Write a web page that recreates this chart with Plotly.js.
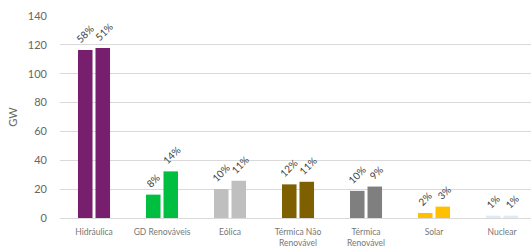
<!DOCTYPE html>
<html><head><meta charset="utf-8">
<script src="https://cdn.plot.ly/plotly-3.0.1.min.js"></script>
<style>html,body{margin:0;padding:0;background:#fff;}#chart{width:531px;height:248px;}</style>
</head><body><div id="chart"></div>
<script>
const categories = ["Hidráulica", "GD Renováveis", "Eólica", "Térmica Não<br>Renovável", "Térmica<br>Renovável", "Solar", "Nuclear"];
const series1 = [116.4, 16.2, 20.1, 23.3, 18.8, 3.5, 1.6];
const series2 = [117.9, 32.3, 25.8, 25.1, 21.8, 7.9, 1.6];
const pct1 = ["58%", "8%", "10%", "12%", "10%", "2%", "1%"];
const pct2 = ["51%", "14%", "11%", "11%", "9%", "3%", "1%"];
const colors = ["#771E6E", "#00BE3F", "#BFBFBF", "#7F6000", "#7F7F7F", "#FFC000", "#DDEBF7"];
const yTicks = [0, 20, 40, 60, 80, 100, 120, 140];

const font = "Lato, 'Open Sans', sans-serif";
const traces = [
  {type: "bar", x: categories, y: series1, marker: {color: colors}, hoverinfo: "none"},
  {type: "bar", x: categories, y: series2, marker: {color: colors}, hoverinfo: "none"}
];
const annotations = [];
categories.forEach((c, i) => {
  [[series1, pct1, -9.5], [series2, pct2, 9.5]].forEach(([s, p, dx]) => {
    annotations.push({x: c, y: s[i], text: p[i], showarrow: false, textangle: -45,
      xanchor: "center", yanchor: "bottom", xshift: dx, yshift: 2,
      font: {family: font, size: 10, color: "#404040"}});
  });
});
const layout = {
  width: 531, height: 248,
  margin: {l: 60, r: 0, t: 16, b: 30},
  paper_bgcolor: "#fff", plot_bgcolor: "#fff",
  showlegend: false, barmode: "group", bargap: 0.485, bargroupgap: 0.17,
  xaxis: {type: "category", range: [-0.5, 6.426], showgrid: false, zeroline: false,
    showline: false, ticks: "", ticklabelstandoff: 7,
    tickfont: {family: font, size: 8.5, color: "#777777"}},
  yaxis: {range: [0, 140], tickvals: yTicks, ticktext: yTicks.map(String), showgrid: true,
    gridcolor: "#D9D9D9", gridwidth: 1, zeroline: true, zerolinecolor: "#D9D9D9", showline: false,
    ticks: "", ticklabelstandoff: 12,
    tickfont: {family: font, size: 11, color: "#666666"},
    title: {text: "GW", font: {family: font, size: 11, color: "#666666"}, standoff: 8}},
  annotations: annotations
};
Plotly.newPlot("chart", traces, layout, {staticPlot: true, displayModeBar: false});
</script></body></html>
